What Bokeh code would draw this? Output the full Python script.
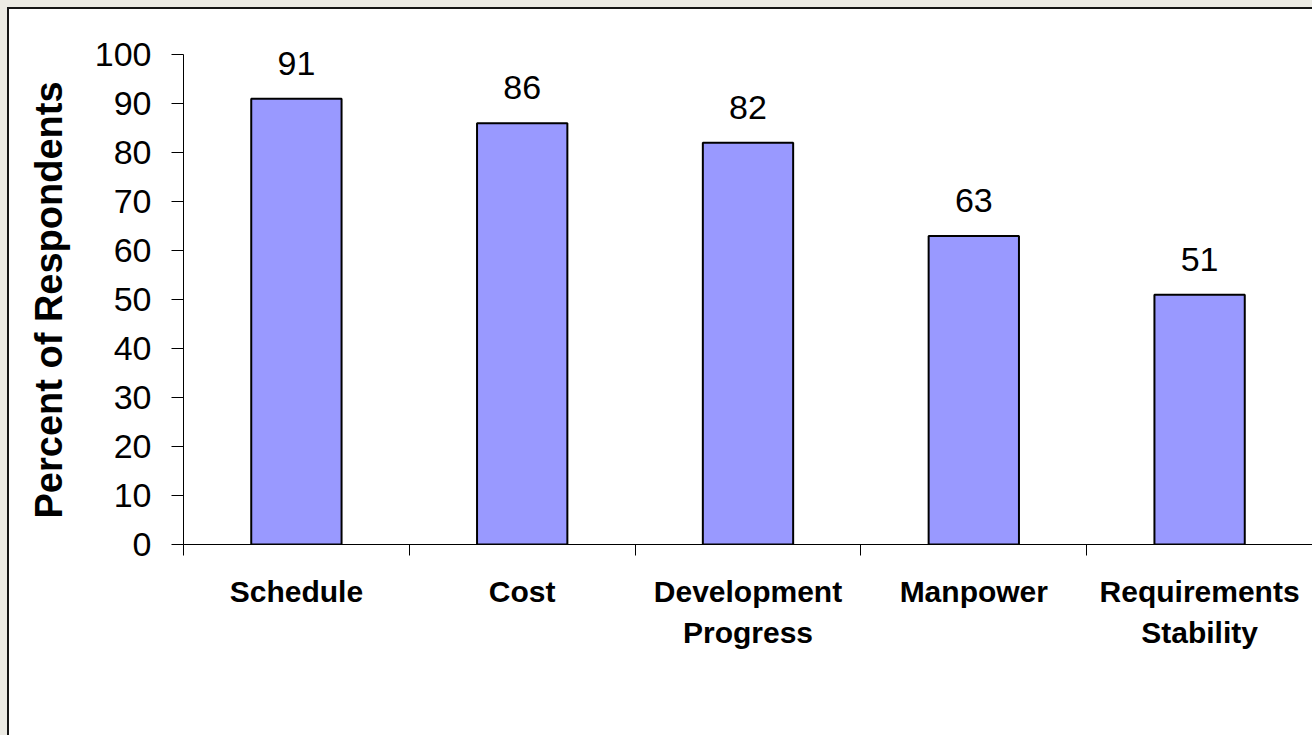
from bokeh.plotting import figure
from bokeh.models import ColumnDataSource, Range1d, FixedTicker, LabelSet, Title
from bokeh.core.properties import value
from bokeh.embed import file_html
from bokeh.resources import INLINE

# ---- data ----
categories = ["Schedule", "Cost", "Development\nProgress", "Manpower", "Requirements\nStability"]
values = [91, 86, 82, 63, 51]
y_ticks = [0, 10, 20, 30, 40, 50, 60, 70, 80, 90, 100]
y_title = "Percent of Respondents"

centers = [i + 0.5 for i in range(len(categories))]
bounds = [float(i) for i in range(len(categories) + 1)]

source = ColumnDataSource(dict(
    x=centers,
    top=values,
    label=[str(v) for v in values],
))

FONT = "Liberation Sans"

p = figure(
    width=1312, height=735,
    x_range=Range1d(0, len(categories)),
    y_range=Range1d(0, 108),
    output_backend="svg", toolbar_location=None,
    min_border_left=183, min_border_right=0,
    min_border_top=15, min_border_bottom=191,
)
p.border_fill_color = None
p.background_fill_color = "white"
p.outline_line_color = None
p.grid.visible = False
p.styles = {
    "background": (
        "linear-gradient(#ECEBE4,#ECEBE4) 0 0/100% 7px no-repeat,"
        "linear-gradient(#ECEBE4,#ECEBE4) 0 0/7px 100% no-repeat,"
        "linear-gradient(#161616,#161616) 7px 7px/100% 2px no-repeat,"
        "linear-gradient(#161616,#161616) 7px 7px/2px 100% no-repeat,"
        "white"
    )
}

p.vbar(x="x", top="top", width=0.4, bottom=0, source=source,
       fill_color="#9999FF", line_color="black", line_width=2)

labels = LabelSet(x="x", y="top", text="label", source=source,
                  text_align="center", text_baseline="alphabetic", y_offset=24,
                  text_font=value(FONT), text_font_size="34px", text_color="black")
p.add_layout(labels)

# y axis
ya = p.yaxis[0]
ya.ticker = FixedTicker(ticks=y_ticks, minor_ticks=[])
ya.bounds = (0, 100)
ya.axis_line_color = "black"
ya.major_tick_in = 0
ya.major_tick_out = 12
ya.major_tick_line_color = "black"
ya.minor_tick_line_color = None
ya.major_label_standoff = 20
ya.major_label_text_font = FONT
ya.major_label_text_font_size = "34px"
ya.major_label_text_color = "black"

# y axis title (anchored at the bottom of the value axis, reading upward)
ytitle = Title(text=y_title, align="left", offset=26, standoff=43,
               text_font=FONT, text_font_size="38px", text_font_style="bold",
               text_color="black")
p.add_layout(ytitle, "left")

# x axis
xa = p.xaxis[0]
xa.ticker = FixedTicker(ticks=centers, minor_ticks=bounds)
xa.major_label_overrides = {c: name for c, name in zip(centers, categories)}
xa.axis_line_color = "black"
xa.major_tick_in = 0
xa.major_tick_out = 0
xa.major_tick_line_color = None
xa.minor_tick_in = 0
xa.minor_tick_out = 11
xa.minor_tick_line_color = "black"
xa.major_label_standoff = 19
xa.major_label_text_font = FONT
xa.major_label_text_font_size = "30px"
xa.major_label_text_font_style = "bold"
xa.major_label_text_color = "black"
xa.major_label_text_line_height = 1.25

open("out.html", "w").write(file_html(p, INLINE))
